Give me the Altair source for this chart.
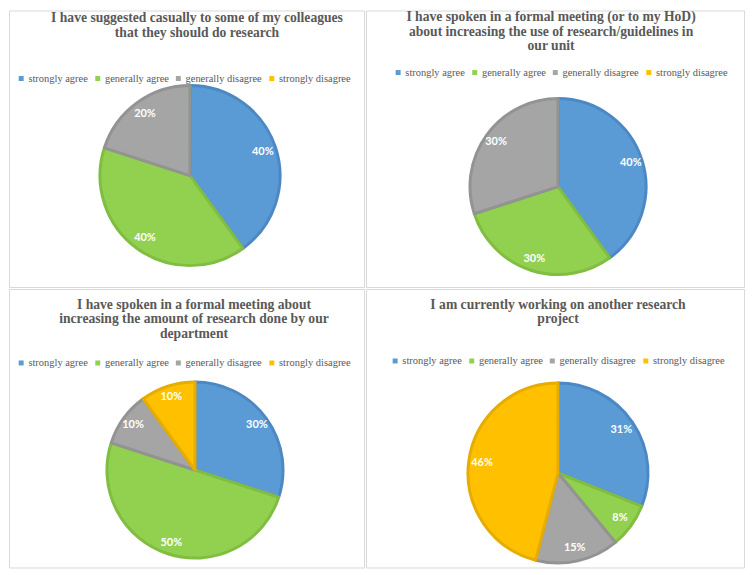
import altair as alt
import pandas as pd

categories = ["strongly agree", "generally agree", "generally disagree", "strongly disagree"]
fill_colors = ["#5B9BD5", "#92D050", "#A5A5A5", "#FFC000"]
stroke_colors = ["#4C89C4", "#80BD41", "#939393", "#E6AD00"]

titles = [
    "I have suggested casually to some of my colleagues\nthat they should do research",
    "I have spoken in a formal meeting (or to my HoD)\nabout increasing the use of research/guidelines in\nour unit",
    "I have spoken in a formal meeting about\nincreasing the amount of research done by our\ndepartment",
    "I am currently working on another research\nproject",
]
values_p1 = [40, 40, 20, 0]
values_p2 = [40, 30, 30, 0]
values_p3 = [30, 50, 10, 10]
values_p4 = [31, 8, 15, 46]

# layout per panel: width, height, cx, cy, r, title x, title top, legend x, legend y
layouts = [
    dict(w=357, h=278, cx=182, cy=166, r=92, tx=189, ty=1, lx=7, ly=63),
    dict(w=380, h=278, cx=193, cy=177, r=90, tx=186, ty=0, lx=27, ly=57),
    dict(w=357, h=280, cx=187, cy=182, r=90, tx=186, ty=9, lx=7, ly=69),
    dict(w=380, h=280, cx=193, cy=185, r=92, tx=193, ty=9, lx=24, ly=67),
]


def panel(title, values, L):
    df = pd.DataFrame({
        "category": categories,
        "value": values,
        "idx": list(range(len(categories))),
        "stroke": stroke_colors,
    })
    base = alt.Chart(df).transform_filter("datum.value > 0")
    arcs = base.mark_arc(radius=L["r"] - 1.5, strokeWidth=3, strokeJoin="round").encode(
        theta=alt.Theta("value:Q", stack=True),
        order=alt.Order("idx:Q"),
        color=alt.Color(
            "category:N",
            sort=categories,
            scale=alt.Scale(domain=categories, range=fill_colors),
            legend=alt.Legend(
                orient="none", legendX=L["lx"], legendY=L["ly"], direction="horizontal",
                title=None, symbolType="square", symbolSize=25, symbolStrokeWidth=0,
                labelFont="Liberation Serif", labelFontSize=10.5, labelColor="#595959",
                columnPadding=4, labelOffset=2,
            ),
        ),
        stroke=alt.Stroke("stroke:N", scale=None),
        x=alt.value(L["cx"]),
        y=alt.value(L["cy"]),
    )
    labels = base.transform_calculate(
        label="datum.value + '%'"
    ).mark_text(radius=77, font="Lato", fontWeight="bold", fontSize=11, color="white").encode(
        theta=alt.Theta("value:Q", stack=True),
        order=alt.Order("idx:Q"),
        text="label:N",
        x=alt.value(L["cx"]),
        y=alt.value(L["cy"]),
    )
    tdf = pd.DataFrame({"t": [title]})
    ttl = alt.Chart(tdf).mark_text(
        font="Liberation Serif", fontWeight="bold", fontSize=13.7, color="#595959",
        lineBreak="\n", lineHeight=14.5, baseline="top", align="center",
    ).encode(text="t:N", x=alt.value(L["tx"]), y=alt.value(L["ty"]))
    return alt.layer(arcs, labels, ttl).properties(width=L["w"], height=L["h"])


panels = [panel(t, v, L) for t, v, L in zip(titles, [values_p1, values_p2, values_p3, values_p4], layouts)]

row1 = alt.hconcat(panels[0], panels[1], spacing=0).resolve_scale(color="independent").resolve_legend(color="independent")
row2 = alt.hconcat(panels[2], panels[3], spacing=0).resolve_scale(color="independent").resolve_legend(color="independent")
chart = alt.vconcat(row1, row2, spacing=0).resolve_scale(color="independent").resolve_legend(
    color="independent"
).properties(padding=0).configure_view(stroke="#D9D9D9", strokeWidth=1)

chart.save("out.html", embed_options={"renderer": "svg", "actions": False})
